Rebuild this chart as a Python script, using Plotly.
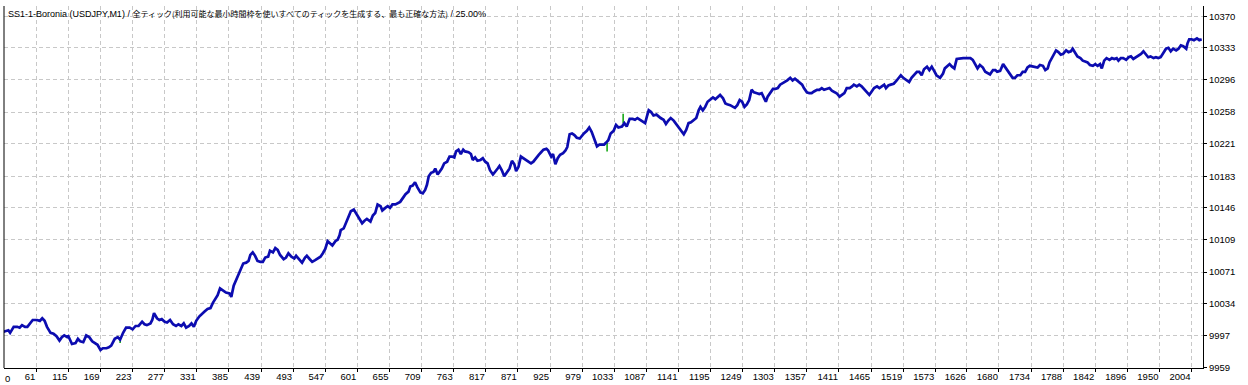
import plotly.graph_objects as go

# ---- data (trade number -> balance) ----
trades = [
    0, 9, 14, 17, 23, 29, 33, 37, 42, 46,
    51, 55, 62, 67, 71, 75, 79, 85, 90, 95,
    100, 104, 108, 113, 115, 121, 127, 131, 135, 140,
    145, 150, 155, 160, 164, 169, 173, 179, 183, 187,
    193, 198, 202, 207, 212, 218, 223, 228, 233, 239,
    243, 247, 253, 256, 259, 264, 268, 272, 277, 281,
    286, 291, 296, 300, 305, 309, 313, 318, 322, 326,
    330, 335, 340, 344, 349, 354, 358, 362, 366, 370,
    375, 380, 386, 389, 393, 398, 403, 409, 414, 418,
    421, 425, 429, 433, 438, 442, 446, 451, 454, 459,
    463, 467, 471, 477, 481, 485, 490, 495, 498, 504,
    508, 513, 516, 521, 525, 530, 534, 539, 543, 547,
    551, 555, 559, 564, 568, 571, 573, 578, 582, 586,
    590, 595, 599, 603, 609, 613, 617, 623, 627, 631,
    635, 640, 643, 648, 652, 656, 660, 665, 669, 673,
    678, 682, 687, 690, 694, 698, 702, 707, 711, 715,
    718, 721, 725, 729, 732, 736, 739, 743, 747, 752,
    756, 760, 764, 767, 771, 775, 779, 782, 788, 792,
    795, 799, 803, 808, 812, 816, 820, 824, 829, 833,
    837, 840, 844, 848, 853, 857, 861, 865, 868, 872,
    876, 880, 885, 889, 893, 897, 902, 906, 910, 914,
    919, 922, 927, 930, 934, 938, 942, 947, 951, 954,
    958, 962, 966, 970, 975, 979, 982, 987, 991, 995,
    999, 1004, 1008, 1012, 1016, 1019, 1023, 1027, 1032, 1036,
    1040, 1046, 1050, 1054, 1059, 1064, 1068, 1072, 1077, 1081,
    1085, 1088, 1091, 1095, 1099, 1104, 1107, 1111, 1116, 1120,
    1124, 1128, 1133, 1137, 1141, 1145, 1150, 1154, 1158, 1162,
    1166, 1171, 1175, 1178, 1182, 1186, 1190, 1194, 1199, 1203,
    1207, 1211, 1216, 1220, 1223, 1228, 1233, 1236, 1240, 1244,
    1248, 1252, 1256, 1260, 1264, 1268, 1273, 1277, 1281, 1284,
    1288, 1291, 1295, 1300, 1304, 1308, 1312, 1317, 1320, 1324,
    1329, 1333, 1337, 1341, 1345, 1349, 1352, 1357, 1361, 1365,
    1369, 1374, 1378, 1382, 1386, 1391, 1395, 1399, 1403, 1407,
    1412, 1416, 1420, 1424, 1429, 1433, 1436, 1441, 1445, 1449,
    1453, 1458, 1462, 1466, 1470, 1475, 1479, 1483, 1487, 1490,
    1494, 1498, 1503, 1507, 1511, 1515, 1519, 1524, 1529, 1533,
    1537, 1542, 1546, 1550, 1554, 1559, 1563, 1567, 1571, 1575,
    1581, 1586, 1589, 1593, 1597, 1601, 1605, 1609, 1615, 1620,
    1626, 1632, 1636, 1640, 1644, 1648, 1653, 1657, 1661, 1665,
    1670, 1674, 1677, 1682, 1687, 1690, 1694, 1699, 1703, 1707,
    1711, 1716, 1720, 1724, 1728, 1732, 1737, 1741, 1745, 1749,
    1754, 1758, 1762, 1765, 1769, 1772, 1776, 1780, 1784, 1788,
    1793, 1797, 1801, 1804, 1808, 1812, 1817, 1821, 1825, 1829,
    1833, 1838, 1842, 1846, 1850, 1853, 1857, 1861, 1866, 1870,
    1874, 1878, 1881, 1885, 1889, 1894, 1898, 1902, 1906, 1911,
    1915, 1919, 1923, 1928, 1931, 1935, 1940, 1944, 1948, 1952,
    1957, 1961, 1965, 1969, 1973, 1978, 1982, 1986, 1990, 1995,
    1997, 2000, 2004, 2008, 2013, 2017, 2021,
]

balance = [
    10000, 10002, 10003, 10000, 10007, 10007, 10006, 10009, 10007, 10007,
    10011, 10015, 10015, 10014, 10017, 10014, 10007, 10000, 9999, 9996,
    9991, 9995, 9997, 9995, 9996, 9987, 9988, 9993, 9990, 9989,
    9997, 9995, 9990, 9988, 9986, 9980, 9982, 9982, 9983, 9985,
    9993, 9995, 9992, 10000, 10006, 10006, 10004, 10008, 10008, 10013,
    10010, 10009, 10011, 10015, 10023, 10017, 10015, 10016, 10013, 10012,
    10015, 10010, 10008, 10010, 10008, 10011, 10006, 10008, 10011, 10007,
    10014, 10019, 10023, 10025, 10028, 10029, 10035, 10039, 10044, 10052,
    10049, 10047, 10046, 10042, 10055, 10063, 10072, 10081, 10082, 10084,
    10091, 10094, 10090, 10084, 10083, 10083, 10088, 10089, 10096, 10094,
    10099, 10097, 10091, 10086, 10088, 10093, 10089, 10087, 10090, 10085,
    10082, 10088, 10090, 10086, 10083, 10085, 10087, 10089, 10093, 10098,
    10107, 10104, 10102, 10107, 10109, 10114, 10120, 10122, 10128, 10135,
    10142, 10144, 10139, 10134, 10128, 10131, 10133, 10130, 10137, 10140,
    10150, 10148, 10143, 10146, 10148, 10146, 10150, 10150, 10152, 10153,
    10158, 10162, 10165, 10171, 10172, 10176, 10170, 10164, 10163, 10167,
    10173, 10183, 10187, 10188, 10192, 10185, 10188, 10192, 10198, 10200,
    10206, 10206, 10205, 10212, 10214, 10209, 10214, 10212, 10211, 10209,
    10202, 10205, 10201, 10202, 10204, 10200, 10198, 10190, 10185, 10188,
    10192, 10195, 10190, 10183, 10188, 10192, 10201, 10197, 10189, 10194,
    10206, 10204, 10201, 10200, 10198, 10200, 10205, 10208, 10211, 10214,
    10215, 10213, 10206, 10209, 10197, 10204, 10208, 10210, 10213, 10217,
    10232, 10233, 10231, 10228, 10227, 10231, 10233, 10236, 10240, 10235,
    10228, 10218, 10220, 10220, 10220, 10222, 10225, 10233, 10236, 10243,
    10240, 10241, 10245, 10241, 10250, 10250, 10249, 10251, 10249, 10247,
    10245, 10253, 10260, 10258, 10254, 10255, 10253, 10251, 10249, 10244,
    10248, 10251, 10248, 10244, 10240, 10236, 10232, 10237, 10245, 10246,
    10248, 10251, 10260, 10264, 10260, 10264, 10270, 10272, 10275, 10273,
    10276, 10278, 10274, 10268, 10267, 10266, 10264, 10263, 10266, 10272,
    10270, 10264, 10267, 10272, 10284, 10281, 10280, 10279, 10280, 10276,
    10270, 10276, 10280, 10285, 10285, 10286, 10290, 10292, 10294, 10295,
    10298, 10295, 10297, 10295, 10293, 10290, 10286, 10281, 10280, 10280,
    10282, 10284, 10284, 10286, 10284, 10285, 10286, 10283, 10281, 10280,
    10276, 10278, 10280, 10286, 10286, 10288, 10290, 10288, 10290, 10288,
    10285, 10280, 10278, 10282, 10286, 10288, 10286, 10288, 10290, 10286,
    10289, 10290, 10291, 10294, 10298, 10301, 10298, 10296, 10293, 10298,
    10301, 10305, 10305, 10301, 10308, 10311, 10307, 10311, 10306, 10301,
    10298, 10303, 10309, 10311, 10314, 10311, 10309, 10320, 10321, 10321,
    10321, 10321, 10319, 10313, 10309, 10313, 10310, 10305, 10303, 10302,
    10307, 10307, 10305, 10306, 10314, 10311, 10306, 10301, 10298, 10298,
    10301, 10301, 10305, 10305, 10310, 10312, 10311, 10311, 10310, 10313,
    10312, 10307, 10309, 10316, 10321, 10325, 10330, 10328, 10325, 10326,
    10330, 10328, 10329, 10332, 10328, 10323, 10321, 10318, 10317, 10316,
    10313, 10312, 10314, 10312, 10314, 10309, 10318, 10321, 10319, 10321,
    10320, 10321, 10318, 10321, 10321, 10319, 10322, 10323, 10320, 10322,
    10324, 10326, 10329, 10325, 10322, 10323, 10321, 10322, 10321, 10322,
    10327, 10332, 10333, 10329, 10332, 10330, 10332, 10336, 10335, 10332,
    10338, 10343, 10343, 10342, 10344, 10342, 10343,
]
assert len(trades) == len(balance)

# equity excursions (green) visible beyond the balance line
equity_trades = [202, 202, None, 1021, 1021, None, 1048, 1048]
equity_values = [9992, 9988, None, 10222, 10212, None, 10245, 10256]

x_tick_labels = ["61", "115", "169", "223", "277", "331", "385", "439", "493", "547",
                 "601", "655", "709", "763", "817", "871", "925", "979", "1033", "1087",
                 "1141", "1195", "1249", "1303", "1357", "1411", "1465", "1519", "1573",
                 "1626", "1680", "1734", "1788", "1842", "1896", "1950", "2004"]
first_x_label = "0"
y_tick_labels = ["9959", "9997", "10034", "10071", "10109", "10146", "10183",
                 "10221", "10258", "10296", "10333", "10370"]

title_latin = "SS1-1-Boronia (USDJPY,M1) / "
title_cjk = "全ティック(利用可能な最小時間枠を使いすべてのティックを生成する、最も正確な方法)"
title_tail = " / 25.00%"

X_RANGE = [6.7, 2023.2]
Y_RANGE = [9958.9, 10381.9]

FONT = "Liberation Sans, Arial, sans-serif"
GRID = "#c8c8c8"

fig = go.Figure()
fig.add_trace(go.Scatter(x=equity_trades, y=equity_values, mode="lines",
                         line=dict(color="#18a818", width=1.6), hoverinfo="skip",
                         connectgaps=False, showlegend=False))
fig.add_trace(go.Scatter(x=trades, y=balance, mode="lines",
                         line=dict(color="#0c0cb0", width=2.7), showlegend=False))

fig.update_layout(
    width=1248, height=385,
    margin=dict(l=4, r=45, t=6, b=17, pad=0),
    paper_bgcolor="white", plot_bgcolor="white",
    font=dict(family=FONT, size=9, color="black"),
    showlegend=False,
)
fig.update_xaxes(
    range=X_RANGE, tickmode="array",
    tickvals=[int(v) for v in x_tick_labels], ticktext=x_tick_labels,
    showgrid=True, gridcolor=GRID, griddash="4px,3px", gridwidth=1,
    showline=True, linecolor="black", linewidth=1,
    ticks="outside", ticklen=3, tickcolor="black",
    ticklabelposition="outside left",
    tickfont=dict(family=FONT, size=9.5, color="black"),
    zeroline=False,
)
fig.update_yaxes(
    range=Y_RANGE, side="right", tickmode="array",
    tickvals=[int(v) for v in y_tick_labels], ticktext=y_tick_labels,
    showgrid=True, gridcolor=GRID, griddash="4px,3px", gridwidth=1,
    showline=True, linecolor="black", linewidth=1,
    ticks="outside", ticklen=3, tickcolor="black",
    tickfont=dict(family=FONT, size=9.5, color="black"),
    zeroline=False,
)

# left frame line (MT4 draws left, bottom and right edges)
fig.add_shape(type="line", xref="paper", yref="paper", x0=0, x1=0, y0=0, y1=1,
              line=dict(color="black", width=1))

# leftmost x label "0" sits right of the frame edge
fig.add_annotation(x=X_RANGE[0], y=0, xref="x", yref="paper", text=first_x_label,
                   showarrow=False, xanchor="left", yanchor="top", yshift=-3, xshift=-1,
                   font=dict(family=FONT, size=9.5, color="black"))

title_html = (title_latin
              + f'<span style="font-family:Noto Sans CJK JP;font-size:8px">{title_cjk}</span>'
              + title_tail)
fig.add_annotation(x=0, y=1, xref="paper", yref="paper", text=title_html,
                   showarrow=False, xanchor="left", yanchor="top", xshift=2, yshift=0,
                   font=dict(family=FONT, size=9, color="black"))

fig.write_html("out.html", config={"displayModeBar": False},
               post_script="document.body.style.margin='0';document.body.style.padding='0';")
